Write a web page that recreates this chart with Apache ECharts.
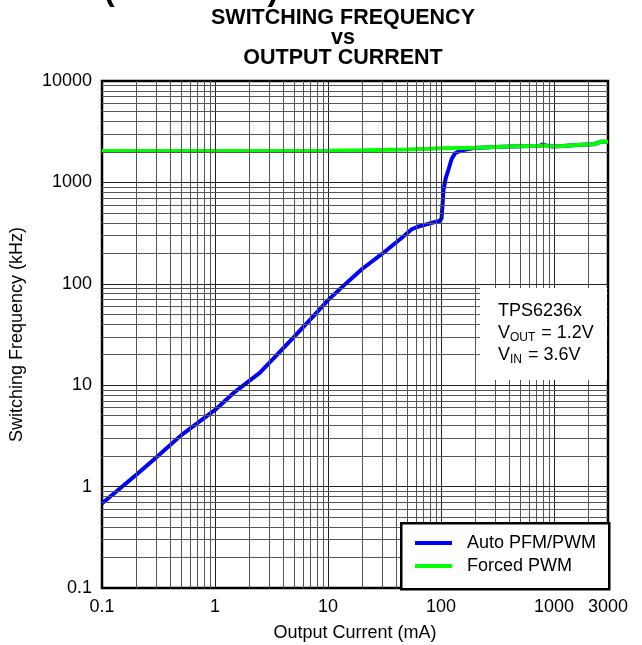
<!DOCTYPE html>
<html>
<head>
<meta charset="utf-8">
<script src="https://cdn.jsdelivr.net/npm/echarts@6/dist/echarts.min.js"></script>
<style>
  html, body { margin: 0; padding: 0; background: #fff; }
  #chart { width: 642px; height: 645px; }
</style>
</head>
<body>
<div id="chart"></div>
<script>
// ---- data ----
const titleLines = ['SWITCHING FREQUENCY', 'vs', 'OUTPUT CURRENT'];
const headingFragment = '(continued)';
const xAxisName = 'Output Current (mA)';
const yAxisName = 'Switching Frequency (kHz)';
const xTickValues = [0.1, 1, 10, 100, 1000, 3000];
const xTickLabels = ['0.1', '1', '10', '100', '1000', '3000'];
const yTickValues = [0.1, 1, 10, 100, 1000, 10000];
const yTickLabels = ['0.1', '1', '10', '100', '1000', '10000'];
const seriesNames = ['Auto PFM/PWM', 'Forced PWM'];

const autoCurrent = [0.1, 0.2, 0.3, 0.5, 1, 1.5, 2.5, 5, 7.5, 10, 15, 20, 30, 45, 55, 62, 80, 98, 101, 103, 105, 110, 116, 124, 133, 150, 170, 200, 300, 500, 750, 800, 850, 950, 1200, 1600, 2200, 2400, 2550, 3000];
const autoFreq    = [0.68, 1.3, 1.93, 3.2, 5.7, 8.6, 13.3, 30, 48.5, 69, 105, 140, 197, 285, 345, 365, 395, 418, 445, 600, 841, 1100, 1325, 1700, 1936, 2060, 2120, 2190, 2230, 2270, 2300, 2370, 2320, 2265, 2290, 2340, 2380, 2430, 2510, 2520];

const forcedCurrent = [0.1, 1, 10, 20, 50, 80, 100, 200, 400, 750, 850, 950, 1200, 1600, 2200, 2400, 2550, 3000];
const forcedFreq    = [2040, 2045, 2055, 2070, 2110, 2150, 2170, 2200, 2260, 2300, 2310, 2265, 2290, 2340, 2380, 2430, 2510, 2520];

const noteLines = ['TPS6236x', ['V', 'OUT', ' = 1.2V'], ['V', 'IN', ' = 3.6V']];

// ---- styling ----
const FONT = '"Liberation Sans", Arial, Helvetica, sans-serif';
const X_MIN = 0.1, X_MAX = 3000, Y_MIN = 0.1, Y_MAX = 10000;

// log grid lines (1..9 per decade), excluding plot edges
function logGrid(min, max) {
  const out = [];
  for (let e = Math.round(Math.log10(min)); e < Math.log10(max); e++) {
    const d = Math.pow(10, e);
    for (let k = 1; k <= 9; k++) {
      const v = parseFloat((k * d).toPrecision(6));
      if (v > min * 1.0001 && v < max * 0.9999) out.push({ v: v, major: k === 1 });
    }
  }
  return out;
}
const gridMarks = [];
logGrid(X_MIN, X_MAX).forEach(g => gridMarks.push({
  xAxis: g.v, lineStyle: { color: g.major ? '#222' : '#555', width: 1, type: 'solid' }
}));
logGrid(Y_MIN, Y_MAX).forEach(g => gridMarks.push({
  yAxis: g.v, lineStyle: { color: g.major ? '#222' : '#555', width: 1, type: 'solid' }
}));

function labelFor(values, labels) {
  return function (v) {
    for (let i = 0; i < values.length; i++) {
      if (Math.abs(Math.log10(v) - Math.log10(values[i])) < 1e-6) return labels[i];
    }
    return '';
  };
}

const noteText = noteLines.map(l => Array.isArray(l)
  ? '{n|' + l[0] + '}{s|' + l[1] + '}{n|' + l[2] + '}'
  : '{n|' + l + '}').join('\n');

const chart = echarts.init(document.getElementById('chart'), null, { renderer: 'canvas' });
chart.setOption({
  animation: false,
  backgroundColor: '#fff',
  textStyle: { fontFamily: FONT },
  title: {
    text: titleLines.join('\n'),
    left: 343,
    top: 8,
    padding: 0,
    textAlign: 'center',
    textStyle: { fontFamily: FONT, fontSize: 21.5, fontWeight: 'bold', color: '#000', lineHeight: 20 }
  },
  grid: {
    left: 102, right: 34, top: 81, bottom: 57,
    show: true, borderColor: '#000', borderWidth: 2.5, backgroundColor: '#fff',
    containLabel: false, outerBoundsMode: 'none'
  },
  xAxis: {
    type: 'log', logBase: 10, min: X_MIN, max: X_MAX,
    name: xAxisName, nameLocation: 'middle', nameGap: 36,
    nameTextStyle: { fontFamily: FONT, fontSize: 18, color: '#000' },
    axisLine: { show: false },
    axisTick: { show: false },
    splitLine: { show: false },
    minorTick: { show: false },
    axisLabel: {
      customValues: xTickValues,
      formatter: labelFor(xTickValues, xTickLabels),
      fontFamily: FONT, fontSize: 18, color: '#000', margin: 10,
      showMinLabel: true, showMaxLabel: true, hideOverlap: false
    }
  },
  yAxis: {
    type: 'log', logBase: 10, min: Y_MIN, max: Y_MAX,
    name: yAxisName, nameLocation: 'middle', nameGap: 76, nameRotate: 90,
    nameTextStyle: { fontFamily: FONT, fontSize: 18, color: '#000' },
    axisLine: { show: false },
    axisTick: { show: false },
    splitLine: { show: false },
    minorTick: { show: false },
    axisLabel: {
      customValues: yTickValues,
      formatter: labelFor(yTickValues, yTickLabels),
      fontFamily: FONT, fontSize: 18, color: '#000', margin: 10,
      showMinLabel: true, showMaxLabel: true, hideOverlap: false
    }
  },
  legend: {
    data: seriesNames,
    orient: 'vertical',
    left: 415, top: 532,
    padding: 0,
    itemGap: 1,
    itemWidth: 37, itemHeight: 4,
    icon: 'rect',
    z: 20,
    selectedMode: false,
    textStyle: { fontFamily: FONT, fontSize: 18, color: '#000', lineHeight: 22, padding: [0, 0, 0, 10] }
  },
  graphic: [
    {
      type: 'text', left: 104, top: -25, z: 5, silent: true,
      style: { text: headingFragment, font: 'bold 32px ' + FONT, fill: '#000' }
    },
    {
      type: 'rect', left: 400, top: 522, z: 10, silent: true,
      shape: { width: 208, height: 66 },
      style: { fill: '#fff', stroke: '#000', lineWidth: 2.5 }
    },
    {
      type: 'group', left: 480, top: 288, z: 10, silent: true,
      children: [
        { type: 'rect', z: 10, shape: { x: 0, y: 0, width: 127, height: 92 }, style: { fill: '#fff' } },
        {
          type: 'text', z: 11, x: 18, y: 12,
          style: {
            text: noteText,
            fill: '#000',
            rich: {
              n: { fontFamily: FONT, fontSize: 18, lineHeight: 22, fill: '#000' },
              s: { fontFamily: FONT, fontSize: 12, lineHeight: 22, verticalAlign: 'bottom', fill: '#000', padding: [0, 1, 0, 0] }
            }
          }
        }
      ]
    }
  ],
  series: [
    {
      name: '_grid', type: 'line', data: [], z: 1, silent: true,
      markLine: {
        silent: true, symbol: ['none', 'none'], label: { show: false },
        animation: false, data: gridMarks
      }
    },
    {
      name: seriesNames[0], type: 'line', z: 3, showSymbol: false, symbol: 'none',
      color: '#0000ff',
      lineStyle: { color: '#0000ff', width: 4 },
      itemStyle: { color: '#0000ff' },
      data: autoCurrent.map((x, i) => [x, autoFreq[i]])
    },
    {
      name: seriesNames[1], type: 'line', z: 4, showSymbol: false, symbol: 'none',
      color: '#00ff00',
      lineStyle: { color: '#00ff00', width: 4 },
      itemStyle: { color: '#00ff00' },
      data: forcedCurrent.map((x, i) => [x, forcedFreq[i]])
    }
  ]
});
</script>
</body>
</html>
